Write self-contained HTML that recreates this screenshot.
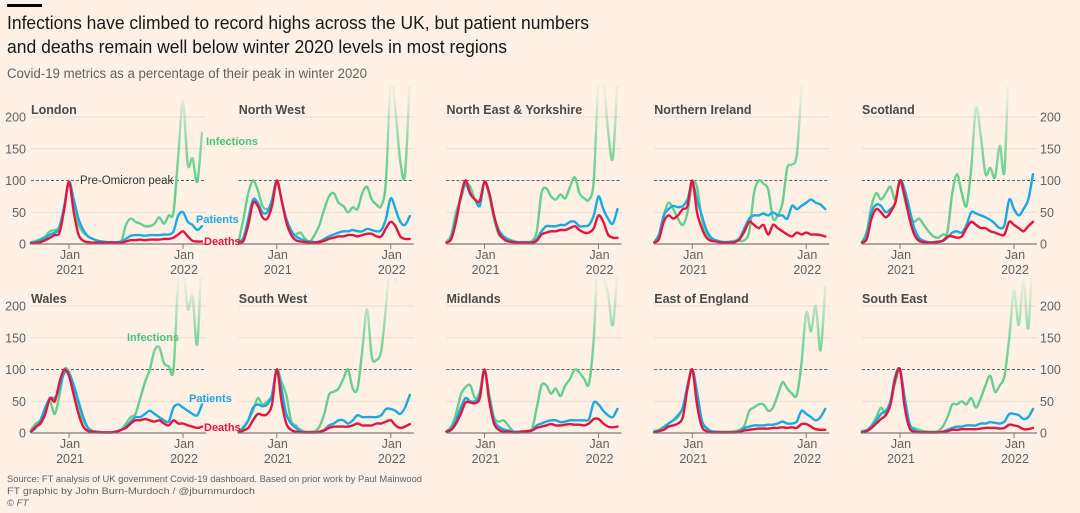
<!DOCTYPE html>
<html><head><meta charset="utf-8">
<style>
html,body{margin:0;padding:0;background:#fff1e5;}
svg{display:block;font-family:"Liberation Sans",sans-serif;}
</style></head>
<body>
<svg id="chart" width="1080" height="513" viewBox="0 0 1080 513" xmlns="http://www.w3.org/2000/svg">
<rect width="1080" height="513" fill="#fff1e5"/>
<rect x="7" y="4" width="35" height="3" fill="#000"/>
<text x="7" y="29" font-size="18" fill="#1a1817" textLength="582" lengthAdjust="spacingAndGlyphs">Infections have climbed to record highs across the UK, but patient numbers</text>
<text x="7" y="53" font-size="18" fill="#1a1817" textLength="500" lengthAdjust="spacingAndGlyphs">and deaths remain well below winter 2020 levels in most regions</text>
<text x="7" y="78" font-size="13.5" fill="#66605c" textLength="360" lengthAdjust="spacingAndGlyphs">Covid-19 metrics as a percentage of their peak in winter 2020</text>
<defs id="defs"></defs>
<g id="panels"></g>
<text x="7" y="482" font-size="9.5" fill="#66605c" textLength="415" lengthAdjust="spacingAndGlyphs">Source: FT analysis of UK government Covid-19 dashboard. Based on prior work by Paul Mainwood</text>
<text x="7" y="494" font-size="9.5" fill="#66605c" textLength="248" lengthAdjust="spacingAndGlyphs">FT graphic by John Burn-Murdoch / @jburnmurdoch</text>
<text x="7" y="506" font-size="9.5" fill="#66605c" font-style="italic">© FT</text>
</svg>
<script>
// months since 1 Sep 2020, step 0.5 month
const months = Array.from({length:37},(_,i)=>i*0.5);
const regions = ["London","North West","North East & Yorkshire","Northern Ireland","Scotland","Wales","South West","Midlands","East of England","South East"];
const yTicks = [0,50,100,150,200];
const xTickMonths = [4,16];
const xTickLabels = [["Jan","2021"],["Jan","2022"]];

const infLondon=[3,5,8,12,20,22,28,60,98,55,30,18,12,8,5,4,3,3,3,4,30,40,35,32,28,28,32,42,32,45,50,140,225,125,135,98,175];
const patLondon=[2,3,6,10,15,18,25,60,98,70,40,22,12,8,5,4,3,3,3,4,8,13,14,14,13,14,14,14,15,15,20,45,50,35,30,22,28];
const dthLondon=[1,2,3,6,10,14,18,55,98,50,15,5,3,2,2,2,2,2,2,2,4,6,6,7,6,7,7,7,8,8,10,15,20,12,5,4,4];

const infNW=[5,40,80,100,85,60,55,65,95,70,35,15,15,18,8,4,15,30,55,75,80,65,60,50,58,55,80,90,70,62,60,100,260,210,130,110,260];
const patNW=[3,10,40,70,65,50,50,70,100,70,40,22,12,8,5,4,3,4,8,12,15,18,20,20,22,20,20,24,22,20,22,40,72,55,35,30,44];
const dthNW=[2,5,30,65,60,42,40,60,100,70,35,15,6,4,3,2,2,3,5,8,10,12,12,14,14,12,14,16,16,12,12,25,35,28,12,8,8];

const infNE=[3,15,50,70,95,90,70,65,98,75,40,15,12,8,5,3,3,3,5,20,80,88,75,70,78,72,90,105,80,72,70,100,260,260,180,135,260];
const patNE=[2,10,40,75,95,78,70,60,98,80,45,22,12,6,4,3,3,3,3,8,20,28,28,28,30,30,35,35,28,28,30,45,75,55,40,32,55];
const dthNE=[2,8,35,75,100,80,70,68,98,80,45,18,8,4,3,2,2,2,2,5,15,18,20,20,22,22,25,28,22,18,18,25,45,35,15,10,10];

const infNI=[3,10,45,65,55,40,30,50,95,90,40,15,8,5,3,3,4,5,5,6,20,80,100,95,85,40,45,65,120,125,140,240,300,300,300,300,300];
const patNI=[3,15,45,55,60,58,60,70,95,70,45,22,10,6,4,3,3,4,10,25,40,45,45,48,45,50,45,45,40,60,55,60,65,70,65,62,55];
const dthNI=[2,8,35,45,40,45,55,60,100,50,25,10,5,4,2,2,2,3,8,20,35,30,25,30,15,30,25,20,15,12,18,15,18,15,15,14,12];

const infSC=[3,20,60,80,70,80,90,70,100,70,45,35,40,30,20,12,10,15,20,80,110,80,60,120,215,170,110,120,105,155,115,300,300,300,300,300,300];
const patSC=[2,15,50,62,60,50,55,65,100,85,55,25,10,5,3,3,4,5,10,18,20,18,30,50,48,45,42,38,32,25,30,70,55,45,55,70,110];
const dthSC=[2,8,40,55,50,42,50,65,100,75,40,15,5,3,2,2,3,5,12,12,10,12,25,35,30,25,25,20,18,15,15,35,30,25,20,28,35];

const infWA=[5,15,20,40,50,30,60,100,95,70,40,20,8,3,2,1,1,1,2,5,15,25,30,55,80,100,130,135,110,105,100,240,260,195,215,140,300];
const patWA=[2,8,20,40,55,55,70,95,95,75,50,25,8,3,2,1,1,1,3,5,10,18,25,25,30,35,30,25,20,18,40,45,40,35,30,28,45];
const dthWA=[2,10,15,30,55,50,80,100,90,60,30,10,3,2,1,1,1,1,2,5,8,15,20,20,22,20,18,20,15,12,20,15,15,12,10,8,10];

const infSW=[3,10,20,35,55,45,50,60,100,80,60,20,12,5,2,2,3,10,30,60,65,70,85,100,70,70,130,195,120,115,130,200,280,240,280,300,300];
const patSW=[2,8,20,40,45,42,45,60,100,70,30,15,8,3,1,1,1,2,5,12,15,20,20,15,20,28,25,25,25,25,28,38,38,35,30,40,60];
const dthSW=[1,4,8,20,30,28,30,45,100,50,15,5,2,1,1,1,1,2,4,8,10,10,10,10,12,15,12,12,12,15,15,18,20,12,8,10,14];

const infMI=[3,10,30,60,72,75,55,65,100,60,25,18,20,12,3,2,3,3,6,40,75,75,62,70,58,75,85,100,95,85,78,150,300,250,220,170,260];
const patMI=[2,8,20,40,55,50,50,60,100,55,20,10,6,4,2,2,2,3,5,12,15,18,20,20,17,18,20,20,20,20,22,48,45,35,28,25,38];
const dthMI=[2,5,15,30,48,48,47,55,100,50,15,5,2,2,1,1,2,3,4,8,10,12,14,12,12,13,14,13,13,12,15,22,22,15,10,9,10];

const infEE=[3,5,10,15,20,25,40,70,100,60,15,8,3,2,2,2,2,3,5,12,35,40,45,45,35,40,60,80,70,62,60,110,190,160,200,130,230];
const patEE=[2,4,8,15,20,28,40,75,100,65,20,8,3,2,1,1,1,1,3,8,10,12,12,12,13,13,15,18,15,15,18,35,30,25,20,25,38];
const dthEE=[1,3,5,10,12,15,25,70,100,45,10,3,1,1,1,1,1,1,2,4,5,6,7,7,7,8,8,9,8,9,8,14,14,10,6,5,5];

const infSE=[3,5,12,25,40,30,50,80,100,50,12,8,5,3,2,2,3,10,25,45,45,50,45,55,40,55,75,90,65,75,90,150,225,170,240,165,300];
const patSE=[2,4,10,20,30,35,50,90,100,55,15,5,2,1,1,1,1,2,5,8,10,10,12,12,12,15,15,17,16,15,18,30,30,28,22,25,38];
const dthSE=[1,3,8,15,22,28,45,85,100,40,8,2,1,1,1,1,1,2,3,5,5,6,6,6,6,7,8,8,8,7,8,13,12,10,6,6,8];

const infections=[infLondon,infNW,infNE,infNI,infSC,infWA,infSW,infMI,infEE,infSE];
const patients=[patLondon,patNW,patNE,patNI,patSC,patWA,patSW,patMI,patEE,patSE];
const deaths=[dthLondon,dthNW,dthNE,dthNI,dthSC,dthWA,dthSW,dthMI,dthEE,dthSE];

const NS="http://www.w3.org/2000/svg";
const root=document.getElementById('panels');
const defs=document.getElementById('defs');
const PX0=31, PSTEP=207.75, PW=175, MPX=9.5;
const ROWBASE=[244,433], UNIT=0.635;
const COL={inf:"#66cf8d",pat:"#1ca9e1",dth:"#e4153e"};

function mk(tag,attrs,parent){const e=document.createElementNS(NS,tag);for(const k in attrs)e.setAttribute(k,attrs[k]);parent.appendChild(e);return e;}
function pathFor(vals,xs,ys){
  const pts=vals.map((v,i)=>[xs(months[i]),ys(v)]);
  let d="M"+pts[0][0].toFixed(1)+","+pts[0][1].toFixed(1);
  for(let i=0;i<pts.length-1;i++){
    const p0=pts[Math.max(0,i-1)],p1=pts[i],p2=pts[i+1],p3=pts[Math.min(pts.length-1,i+2)];
    const t=0.16;
    const c1=[p1[0]+(p2[0]-p0[0])*t,p1[1]+(p2[1]-p0[1])*t];
    const c2=[p2[0]-(p3[0]-p1[0])*t,p2[1]-(p3[1]-p1[1])*t];
    d+="C"+c1[0].toFixed(1)+","+c1[1].toFixed(1)+" "+c2[0].toFixed(1)+","+c2[1].toFixed(1)+" "+p2[0].toFixed(1)+","+p2[1].toFixed(1);
  }
  return d;
}

[0,1].forEach(r=>{
  const base=ROWBASE[r];
  const g=mk('linearGradient',{id:'fade'+r,gradientUnits:'userSpaceOnUse',x1:0,x2:0,y1:base-100*UNIT,y2:base-235*UNIT},defs);
  mk('stop',{offset:'0','stop-color':COL.inf,'stop-opacity':'1'},g);
  mk('stop',{offset:'0.45','stop-color':COL.inf,'stop-opacity':'0.75'},g);
  mk('stop',{offset:'1','stop-color':COL.inf,'stop-opacity':'0.12'},g);
});

regions.forEach((name,idx)=>{
  const r=Math.floor(idx/5), c=idx%5;
  const left=PX0+c*PSTEP, base=ROWBASE[r];
  const xs=m=>left+m*MPX;
  const ys=v=>base-v*UNIT;
  const pg=mk('g',{},root);
  
  
  const clip=mk('clipPath',{id:'clip'+idx},defs);
  mk('rect',{x:left-2,y:r?278:86,width:PW+6,height:base-(r?278:86)+2},clip);
  // gridlines
  yTicks.forEach(t=>{
    if(t===0||t===100)return;
    const gl=mk('line',{x1:left,x2:left+PW,y1:ys(t),y2:ys(t),stroke:'#e8dbd0','stroke-width':1},pg);
    
    
  });
  const pk=mk('line',{x1:left,x2:left+PW,y1:ys(100),y2:ys(100),stroke:'#66605c','stroke-width':1,'stroke-dasharray':'3,2'},pg);
  
  
  const title=mk('text',{x:left,y:base-130,'font-size':12.5,'font-weight':'bold',fill:'#4d4845'},pg);
  title.textContent=name;
  
  
  // series
  const lg=mk('g',{'clip-path':'url(#clip'+idx+')',fill:'none','stroke-linejoin':'round','stroke-linecap':'round'},pg);
  const li=mk('path',{d:pathFor(infections[idx],xs,ys),stroke:'url(#fade'+r+')','stroke-width':2.4},lg);
  
  
  const lp=mk('path',{d:pathFor(patients[idx],xs,ys),stroke:COL.pat,'stroke-width':2.4},lg);
  
  
  const ld=mk('path',{d:pathFor(deaths[idx],xs,ys),stroke:COL.dth,'stroke-width':2.4},lg);
  
  
  // baseline
  const bl=mk('line',{x1:left,x2:left+PW,y1:base,y2:base,stroke:'#807973','stroke-width':1.2},pg);
  
  
  xTickMonths.forEach((m,k)=>{
    const tk=mk('line',{x1:xs(m),x2:xs(m),y1:base,y2:base+5,stroke:'#807973','stroke-width':1},pg);
    
    
    const t1=mk('text',{x:xs(m)+1,y:base+15,'font-size':12.5,fill:'#66605c','text-anchor':'middle'},pg);
    t1.textContent=xTickLabels[k][0];
    
    
    const t2=mk('text',{x:xs(m)+1,y:base+30,'font-size':12.5,fill:'#66605c','text-anchor':'middle'},pg);
    t2.textContent=xTickLabels[k][1];
    
    
  });
  if(c===0||c===4){
    yTicks.forEach(t=>{
      const yt=mk('text',{x:c===0?26:1040,y:ys(t)+4.5,'font-size':12.5,fill:'#66605c','text-anchor':c===0?'end':'start'},pg);
      yt.textContent=t;
      
      
    });
  }
});

function lab(txt,x,y,col,name,bg){
  if(bg){const b=mk('rect',{x:x-2,y:y-10,width:bg,height:13,fill:'#fff1e5'},root);
    
    }
  const t=mk('text',{x:x,y:y,'font-size':11,'font-weight':'bold',fill:col},root);
  t.textContent=txt;
  
  
}
lab("Infections",206,145,"#4cc47a","infections-annotation");
lab("Patients",196,223,"#1ca9e1","patients-annotation");
lab("Deaths",204,245,"#e4153e","deaths-annotation");
const po=mk('rect',{x:79,y:173,width:90,height:14,fill:'#fff1e5'},root);


const pt=mk('text',{x:80,y:184,'font-size':11.5,fill:'#33302e'},root);
pt.textContent="Pre-Omicron peak";


lab("Infections",127,341,"#4cc47a","infections-annotation-wales");
lab("Patients",189,402,"#1ca9e1","patients-annotation-wales");
lab("Deaths",204,431,"#e4153e","deaths-annotation-wales");
</script>
</body></html>
